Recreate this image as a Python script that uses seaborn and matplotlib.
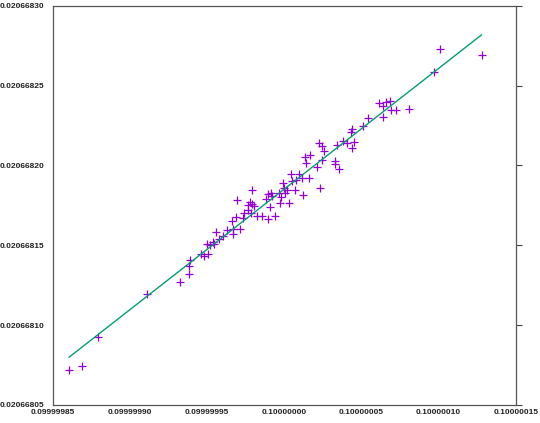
import numpy as np
import seaborn as sns
import matplotlib
matplotlib.use("Agg")
import matplotlib.pyplot as plt
from matplotlib.ticker import FuncFormatter

# offsets: x in 1e-9 from 0.1, y in 1e-9 from 0.020668
x_off = [61.2, 63.8, 65.7, 68.3, 69.0, 72.2, 80.6, 63.8, 54.1, 50.8,
         43.0, 43.7, 44.9, 43.7, 37.9, 40.4, 34.0, 22.3, 24.3, 25.5,
         24.3, 21.0, 32.7, 32.7, 35.3, 23.0, 13.2, 16.4, 13.9, 4.2,
         9.4, 11.3, 15.8, 7.4, 4.9, -1.0, -0.4, 1.5, 6.8, 11.9,
         -3.6, -2.3, 0.2, -3.0, 2.9, -8.8, -10.7, -8.1, -12.1, -9.4,
         -21.1, -30.8, -22.4, -21.1, -23.7, -19.8, -23.7, -26.3, -21.7, -27.0,
         -31.5, -17.9, -14.7, -10.7, -6.2, -34.1, -44.5, -37.3, -33.4, -28.9,
         -33.4, -39.8, -42.5, -46.4, -50.2, -45.7, -48.3, -49.6, -52.2, 96.8,
         100.7, 127.9, -54.1, -61.3, -61.9, -61.9, -67.7, -89.2, -120.9, -131.3,
         -139.6]
y_off = [239.2, 237.3, 239.8, 240.4, 234.9, 234.9, 235.5, 230.5, 229.9, 224.9,
         221.2, 223.1, 215.0, 210.7, 215.6, 214.4, 213.1, 213.8, 211.9, 208.8,
         203.2, 198.9, 202.6, 200.7, 197.6, 185.8, 205.1, 206.3, 201.3, 194.5,
         194.5, 192.0, 192.0, 190.8, 190.2, 189.0, 185.8, 184.6, 184.6, 181.5,
         182.7, 180.3, 182.7, 176.5, 176.5, 182.7, 182.1, 180.9, 179.0, 174.1,
         184.6, 178.4, 177.2, 175.9, 175.3, 174.7, 172.2, 170.3, 170.3, 167.2,
         167.9, 168.5, 168.5, 166.6, 168.5, 165.4, 158.6, 159.8, 160.4, 160.4,
         157.3, 155.5, 154.2, 152.3, 151.1, 150.5, 149.9, 144.3, 143.0, 258.4,
         273.3, 269.0, 144.3, 140.6, 136.8, 131.9, 126.9, 119.5, 92.2, 74.2,
         71.7]
x_base, x_unit = 0.1, 1e-9
y_base, y_unit = 0.020668, 1e-9

sns.set_style("white")
plt.rcParams['font.family'] = ['Liberation Sans', 'DejaVu Sans']
fig = plt.figure(figsize=(5.4, 4.23), dpi=100)
ax = fig.add_axes([0.098, 0.043, 0.857, 0.943])

sns.scatterplot(x=x_off, y=y_off, marker="+", color="#9400d3", s=30, linewidth=0.9, ax=ax)

# linear fit
k, b = np.polyfit(x_off, y_off, 1)
xl = np.array([min(x_off), max(x_off)])
ax.plot(xl, k * xl + b, color="#009e73", lw=1)

ax.set_xlim(-150, 150)
ax.set_ylim(50, 300)
ax.set_xticks(np.arange(-150, 151, 50))
ax.set_yticks(np.arange(50, 301, 50))
ax.xaxis.set_major_formatter(FuncFormatter(lambda v, p: f"{x_base + v * x_unit:.8f}"))
ax.yaxis.set_major_formatter(FuncFormatter(lambda v, p: f"{y_base + v * y_unit:.8f}"))
ax.tick_params(axis="x", direction="in", length=4, pad=3)
ax.tick_params(axis="y", direction="out", right=True, length=4, pad=2)
ax.tick_params(labelsize=6, colors="#444444", labelcolor="#222222")
for lab in ax.get_xticklabels() + ax.get_yticklabels():
    lab.set_fontweight("semibold")
for s in ax.spines.values():
    s.set_color("#555555")
    s.set_linewidth(0.9)

fig.savefig("out.png", dpi=100)
